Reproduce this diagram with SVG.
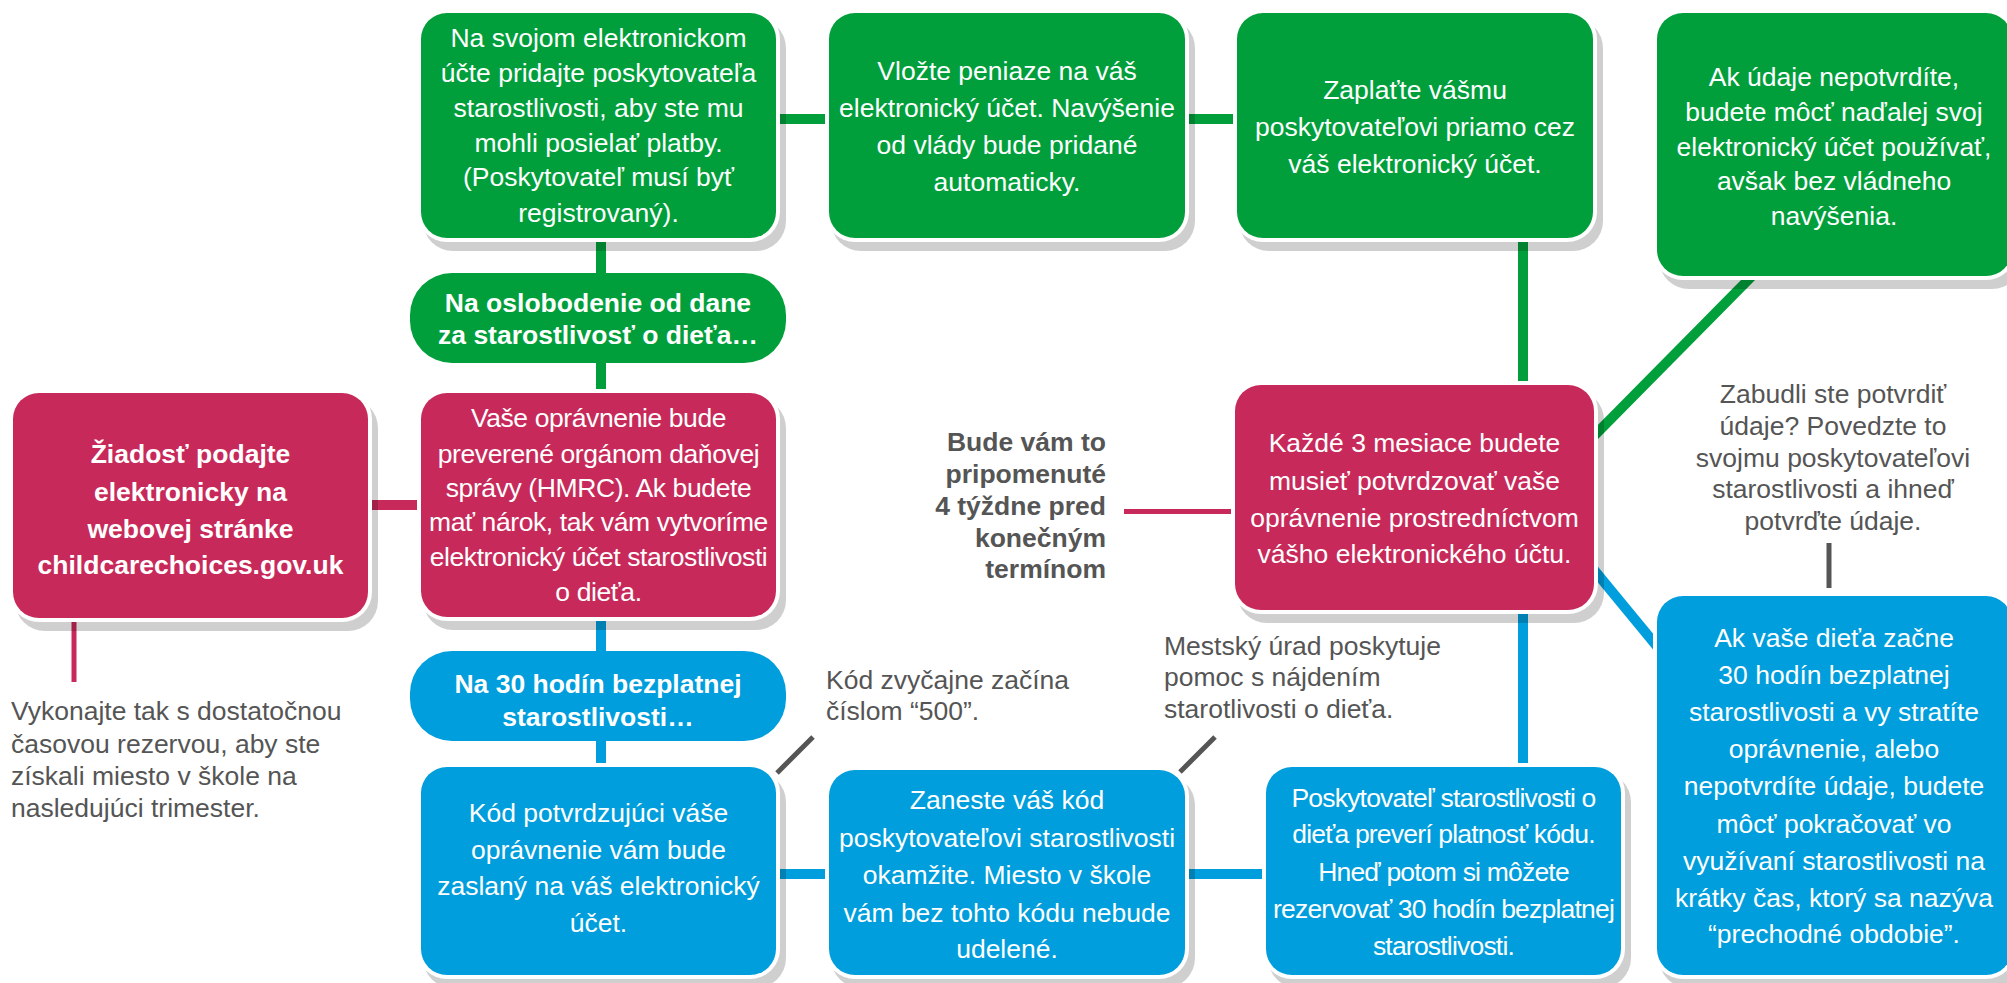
<svg xmlns="http://www.w3.org/2000/svg" width="2007" height="983" viewBox="0 0 2007 983">
<style>
.t{font-family:"Liberation Sans",Arial,sans-serif;font-size:26.5px;fill:#fff;text-anchor:middle}
.b{font-weight:bold}
.n{font-family:"Liberation Sans",Arial,sans-serif;font-size:26.5px;fill:#555}
.sh{fill:#000;fill-opacity:0.19}
.wr{fill:#fff}
.g{fill:#009F3B}.r{fill:#C72A5A}.bl{fill:#009EDC}
.cg{stroke:#009F3B;stroke-width:10;fill:none}
.cr{stroke:#C72A5A;stroke-width:10;fill:none}
.cb{stroke:#009EDC;stroke-width:10;fill:none}
.thin{stroke-width:5}
.cgr{stroke:#555;stroke-width:5;fill:none}
</style>
<rect width="2007" height="983" fill="#fff"/>
<g id="connectors">
<line class="cg" x1="776" y1="119" x2="829" y2="119"/>
<line class="cg" x1="1185" y1="119" x2="1237" y2="119"/>
<line class="cg" x1="601" y1="238" x2="601" y2="273"/>
<line class="cg" x1="601" y1="363" x2="601" y2="393"/>
<line class="cg" x1="1523" y1="238" x2="1523" y2="385"/>
<line class="cg" x1="1752" y1="276" x2="1590" y2="440"/>
<line class="cr" x1="368" y1="505" x2="421" y2="505"/>
<line class="cr thin" x1="74" y1="618" x2="74" y2="682"/>
<line class="cr thin" x1="1124" y1="511.5" x2="1235" y2="511.5"/>
<line class="cb" x1="601" y1="617" x2="601" y2="651"/>
<line class="cb" x1="601" y1="741" x2="601" y2="767"/>
<line class="cb" x1="776" y1="874" x2="829" y2="874"/>
<line class="cb" x1="1185" y1="874" x2="1266" y2="874"/>
<line class="cb" x1="1523" y1="610" x2="1523" y2="767"/>
<line class="cb" x1="1590" y1="565" x2="1660" y2="650"/>
<line class="cgr" x1="777" y1="773" x2="813" y2="737"/>
<line class="cgr" x1="1180" y1="772" x2="1215" y2="737"/>
<line class="cgr" x1="1829" y1="543" x2="1829" y2="588"/>
</g>
<g id="nodeA">
<rect class="sh" x="423" y="18" width="363" height="233" rx="30"/>
<rect class="wr" x="417" y="9" width="363" height="233" rx="30"/>
<rect class="g" x="421" y="13" width="355" height="225" rx="26"/>
<text class="t"><tspan x="598.5" y="47">Na svojom elektronickom</tspan><tspan x="598.5" y="82">účte pridajte poskytovateľa</tspan><tspan x="598.5" y="117">starostlivosti, aby ste mu</tspan><tspan x="598.5" y="152">mohli posielať platby.</tspan><tspan x="598.5" y="186">(Poskytovateľ musí byť</tspan><tspan x="598.5" y="222">registrovaný).</tspan></text>
</g>
<g id="nodeB">
<rect class="sh" x="831" y="18" width="364" height="233" rx="30"/>
<rect class="wr" x="825" y="9" width="364" height="233" rx="30"/>
<rect class="g" x="829" y="13" width="356" height="225" rx="26"/>
<text class="t"><tspan x="1007" y="80">Vložte peniaze na váš</tspan><tspan x="1007" y="117">elektronický účet. Navýšenie</tspan><tspan x="1007" y="154">od vlády bude pridané</tspan><tspan x="1007" y="191">automaticky.</tspan></text>
</g>
<g id="nodeC">
<rect class="sh" x="1239" y="18" width="364" height="233" rx="30"/>
<rect class="wr" x="1233" y="9" width="364" height="233" rx="30"/>
<rect class="g" x="1237" y="13" width="356" height="225" rx="26"/>
<text class="t"><tspan x="1415" y="99">Zaplaťte vášmu</tspan><tspan x="1415" y="136">poskytovateľovi priamo cez</tspan><tspan x="1415" y="173">váš elektronický účet.</tspan></text>
</g>
<g id="nodeD">
<rect class="sh" x="1659" y="18" width="363" height="271" rx="30"/>
<rect class="wr" x="1653" y="9" width="363" height="271" rx="30"/>
<rect class="g" x="1657" y="13" width="355" height="263" rx="26"/>
<text class="t"><tspan x="1834" y="86">Ak údaje nepotvrdíte,</tspan><tspan x="1834" y="121">budete môcť naďalej svoj</tspan><tspan x="1834" y="156">elektronický účet používať,</tspan><tspan x="1834" y="190">avšak bez vládneho</tspan><tspan x="1834" y="225">navýšenia.</tspan></text>
</g>
<g id="pill1">
<rect class="g" x="410" y="273" width="376" height="90" rx="42"/>
<text class="t b"><tspan x="598" y="312">Na oslobodenie od dane</tspan><tspan x="598" y="344">za starostlivosť o dieťa…</tspan></text>
</g>
<g id="nodeE">
<rect class="sh" x="15" y="398" width="363" height="233" rx="30"/>
<rect class="wr" x="9" y="389" width="363" height="233" rx="30"/>
<rect class="r" x="13" y="393" width="355" height="225" rx="26"/>
<text class="t b"><tspan x="190.5" y="463">Žiadosť podajte</tspan><tspan x="190.5" y="501">elektronicky na</tspan><tspan x="190.5" y="538">webovej stránke</tspan><tspan x="190.5" y="574">childcarechoices.gov.uk</tspan></text>
</g>
<g id="nodeF">
<rect class="sh" x="423" y="398" width="363" height="232" rx="30"/>
<rect class="wr" x="417" y="389" width="363" height="232" rx="30"/>
<rect class="r" x="421" y="393" width="355" height="224" rx="26"/>
<text class="t" letter-spacing="-0.4"><tspan x="598.5" y="427">Vaše oprávnenie bude</tspan><tspan x="598.5" y="463">preverené orgánom daňovej</tspan><tspan x="598.5" y="497">správy (HMRC). Ak budete</tspan><tspan x="598.5" y="531">mať nárok, tak vám vytvoríme</tspan><tspan x="598.5" y="566">elektronický účet starostlivosti</tspan><tspan x="598.5" y="601">o dieťa.</tspan></text>
</g>
<g id="nodeG">
<rect class="sh" x="1237" y="390" width="367" height="233" rx="30"/>
<rect class="wr" x="1231" y="381" width="367" height="233" rx="30"/>
<rect class="r" x="1235" y="385" width="359" height="225" rx="26"/>
<text class="t"><tspan x="1414.5" y="452">Každé 3 mesiace budete</tspan><tspan x="1414.5" y="490">musieť potvrdzovať vaše</tspan><tspan x="1414.5" y="527">oprávnenie prostredníctvom</tspan><tspan x="1414.5" y="563">vášho elektronického účtu.</tspan></text>
</g>
<g id="pill2">
<rect class="bl" x="410" y="651" width="376" height="90" rx="42"/>
<text class="t b"><tspan x="598" y="693">Na 30 hodín bezplatnej</tspan><tspan x="598" y="726">starostlivosti…</tspan></text>
</g>
<g id="nodeH">
<rect class="sh" x="423" y="772" width="363" height="216" rx="30"/>
<rect class="wr" x="417" y="763" width="363" height="216" rx="30"/>
<rect class="bl" x="421" y="767" width="355" height="208" rx="26"/>
<text class="t"><tspan x="598.5" y="822">Kód potvrdzujúci váše</tspan><tspan x="598.5" y="859">oprávnenie vám bude</tspan><tspan x="598.5" y="895">zaslaný na váš elektronický</tspan><tspan x="598.5" y="932">účet.</tspan></text>
</g>
<g id="nodeI">
<rect class="sh" x="831" y="775" width="364" height="213" rx="30"/>
<rect class="wr" x="825" y="766" width="364" height="213" rx="30"/>
<rect class="bl" x="829" y="770" width="356" height="205" rx="26"/>
<text class="t"><tspan x="1007" y="809">Zaneste váš kód</tspan><tspan x="1007" y="847">poskytovateľovi starostlivosti</tspan><tspan x="1007" y="884">okamžite. Miesto v škole</tspan><tspan x="1007" y="922">vám bez tohto kódu nebude</tspan><tspan x="1007" y="958">udelené.</tspan></text>
</g>
<g id="nodeJ">
<rect class="sh" x="1268" y="772" width="363" height="216" rx="30"/>
<rect class="wr" x="1262" y="763" width="363" height="216" rx="30"/>
<rect class="bl" x="1266" y="767" width="355" height="208" rx="26"/>
<text class="t" letter-spacing="-0.8"><tspan x="1443.5" y="807">Poskytovateľ starostlivosti o</tspan><tspan x="1443.5" y="843">dieťa preverí platnosť kódu.</tspan><tspan x="1443.5" y="881">Hneď potom si môžete</tspan><tspan x="1443.5" y="918">rezervovať 30 hodín bezplatnej</tspan><tspan x="1443.5" y="955">starostlivosti.</tspan></text>
</g>
<g id="nodeK">
<rect class="sh" x="1659" y="601" width="363" height="387" rx="30"/>
<rect class="wr" x="1653" y="592" width="363" height="387" rx="30"/>
<rect class="bl" x="1657" y="596" width="355" height="379" rx="26"/>
<text class="t"><tspan x="1834" y="647">Ak vaše dieťa začne</tspan><tspan x="1834" y="684">30 hodín bezplatnej</tspan><tspan x="1834" y="721">starostlivosti a vy stratíte</tspan><tspan x="1834" y="758">oprávnenie, alebo</tspan><tspan x="1834" y="795">nepotvrdíte údaje, budete</tspan><tspan x="1834" y="833">môcť pokračovať vo</tspan><tspan x="1834" y="870">využívaní starostlivosti na</tspan><tspan x="1834" y="907">krátky čas, ktorý sa nazýva</tspan><tspan x="1834" y="943">“prechodné obdobie”.</tspan></text>
</g>
<g id="noteApply">
<text class="n"><tspan x="11" y="720">Vykonajte tak s dostatočnou</tspan><tspan x="11" y="753">časovou rezervou, aby ste</tspan><tspan x="11" y="785">získali miesto v škole na</tspan><tspan x="11" y="817">nasledujúci trimester.</tspan></text>
</g>
<g id="noteReminder">
<text class="n b" text-anchor="end"><tspan x="1106" y="451">Bude vám to</tspan><tspan x="1106" y="483">pripomenuté</tspan><tspan x="1106" y="515">4 týždne pred</tspan><tspan x="1106" y="547">konečným</tspan><tspan x="1106" y="578">termínom</tspan></text>
</g>
<g id="noteForgot">
<text class="n" text-anchor="middle"><tspan x="1833" y="403">Zabudli ste potvrdiť</tspan><tspan x="1833" y="435">údaje? Povedzte to</tspan><tspan x="1833" y="467">svojmu poskytovateľovi</tspan><tspan x="1833" y="498">starostlivosti a ihneď</tspan><tspan x="1833" y="530">potvrďte údaje.</tspan></text>
</g>
<g id="noteCode">
<text class="n"><tspan x="826" y="689">Kód zvyčajne začína</tspan><tspan x="826" y="720">číslom “500”.</tspan></text>
</g>
<g id="noteCouncil">
<text class="n"><tspan x="1164" y="655">Mestský úrad poskytuje</tspan><tspan x="1164" y="686">pomoc s nájdením</tspan><tspan x="1164" y="718">starotlivosti o dieťa.</tspan></text>
</g>
</svg>
